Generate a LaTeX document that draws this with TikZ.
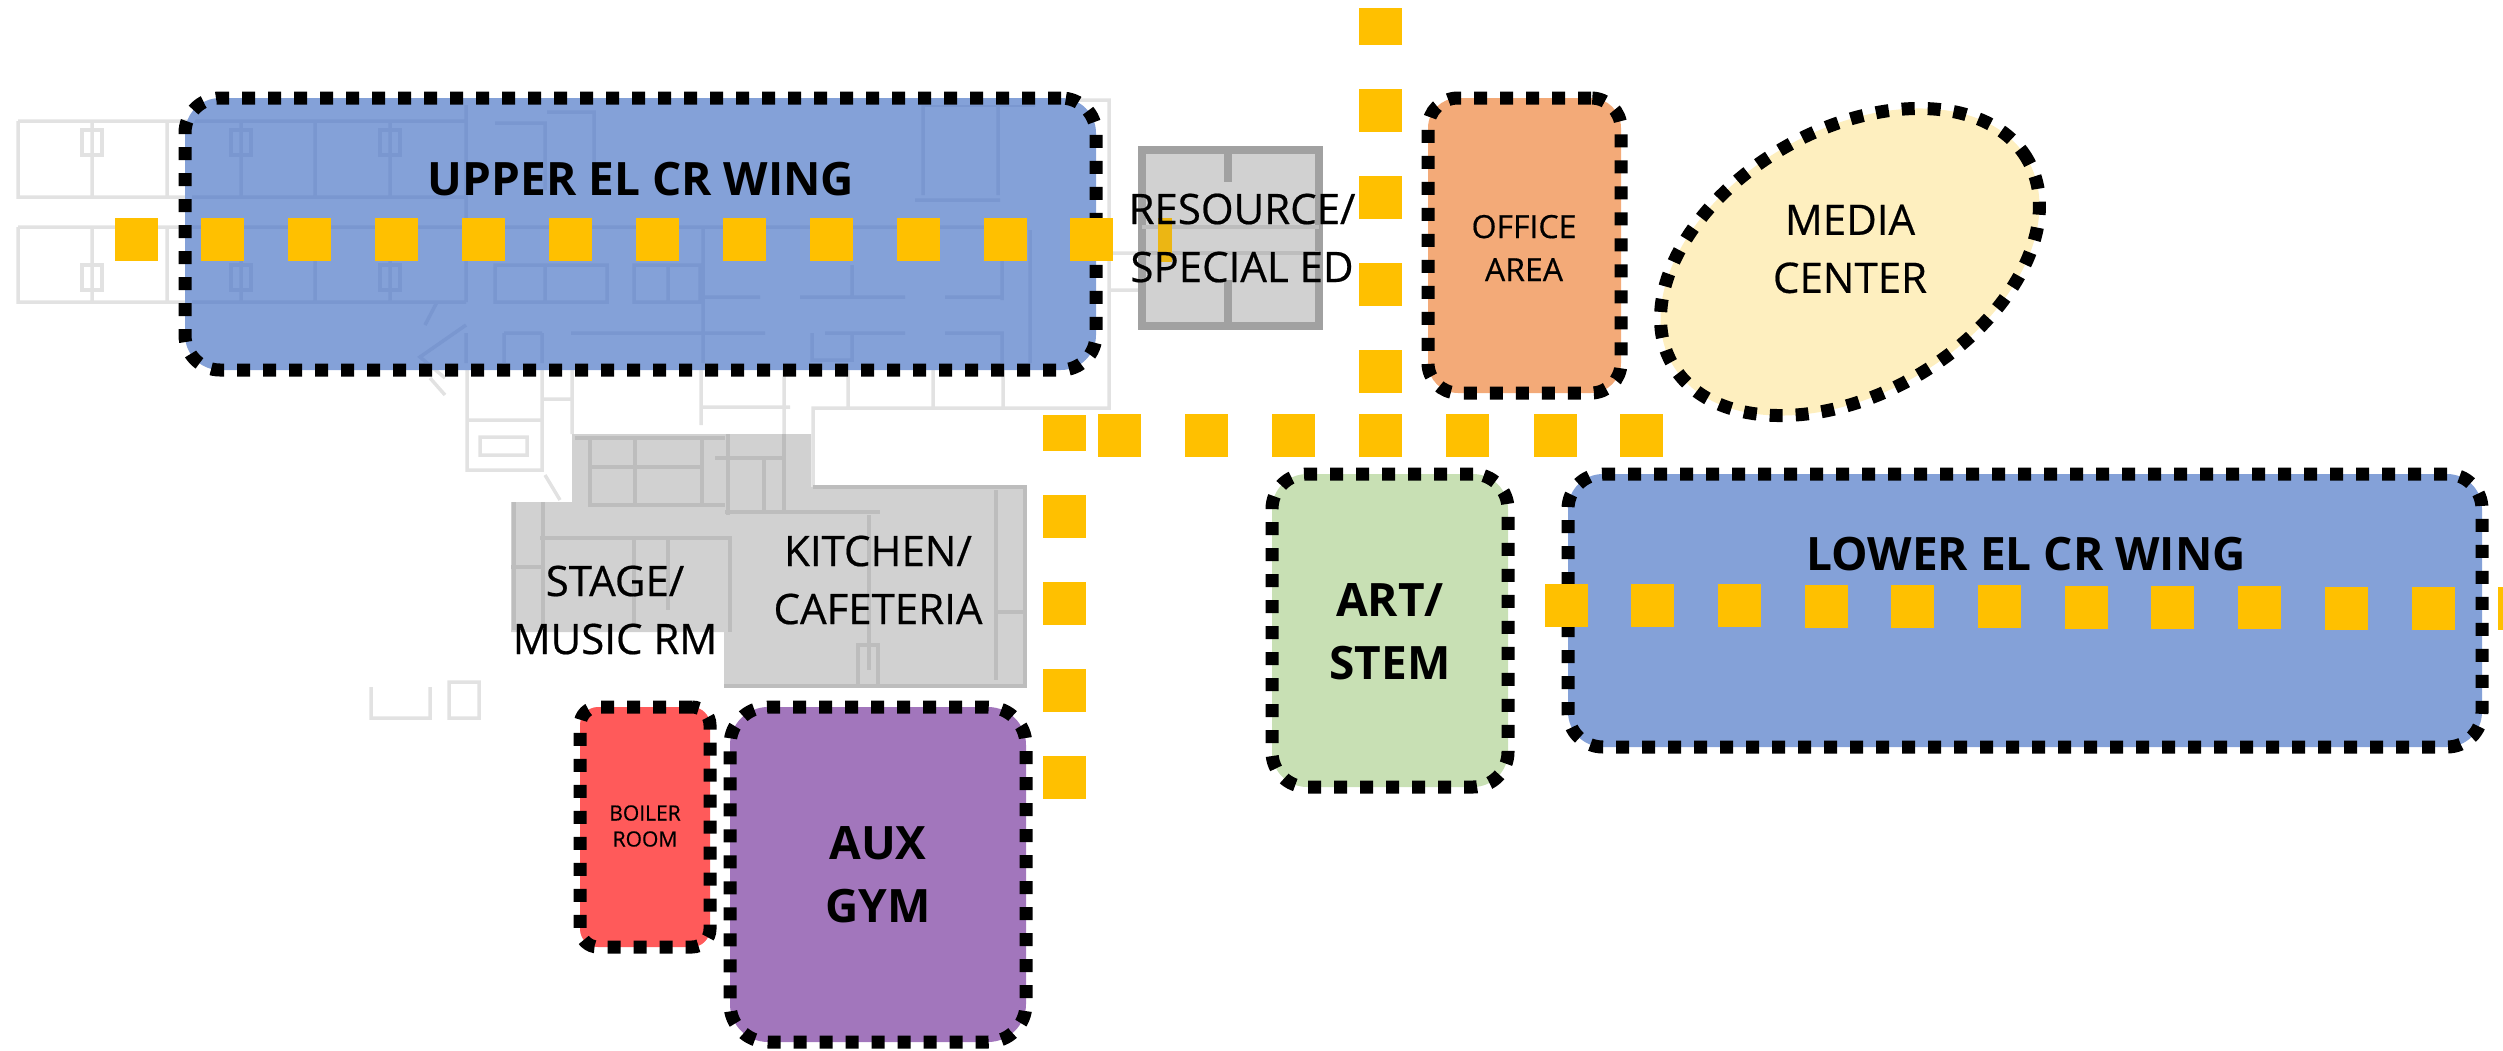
\documentclass[tikz,border=0pt]{standalone}
\usepackage{fontspec}
\setmainfont{Open Sans}
\newfontfamily\heavyfont[FakeBold=0.5]{Open Sans}
\usetikzlibrary{shapes.geometric}
\definecolor{wing}   {HTML}{84A1D8}
\definecolor{wingln} {HTML}{7A97D0}
\definecolor{office} {HTML}{F3AA78}
\definecolor{media}  {HTML}{FEEFBF}
\definecolor{art}    {HTML}{C8E0B4}
\definecolor{gym}    {HTML}{A276BC}
\definecolor{boiler} {HTML}{FF5A5A}
\definecolor{path}   {HTML}{FFC000}
\definecolor{plan}   {HTML}{D1D1D1}
\definecolor{planln} {HTML}{BDBDBD}
\definecolor{faint}  {HTML}{E2E2E2}
\tikzset{
  room/.style    = {draw=black, line width=13pt, dash pattern=on 13pt off 13pt,
                    rounded corners=35pt, inner sep=0pt},
  pathsq/.style  = {fill=path, inner sep=0pt, minimum size=43pt},
  lbl/.style     = {align=center, inner sep=0pt, font=\heavyfont\fontsize{42}{58}\selectfont},
  biglbl/.style  = {lbl, font=\bfseries\fontsize{46}{63}\selectfont},
  wall/.style    = {line width=3.5pt, draw=#1},
}
% walls of the upper wing
\newcommand{\upperplan}{
  (18,121) -- (466,121) (18,121) -- (18,197) -- (466,197)
  (18,227) -- (18,302) -- (466,302) (18,227) -- (1000,227)
  (92,121) -- (92,197) (92,227) -- (92,302)
  (167,121) -- (167,197) (167,227) -- (167,302)
  (241,121) -- (241,197) (241,227) -- (241,302)
  (315,121) -- (315,197) (315,227) -- (315,302)
  (390,121) -- (390,197) (390,227) -- (390,302)
  (466,105) -- (466,302) (495,123) -- (545,123) -- (545,190)
  (547,112) -- (594,112) -- (594,180)
  (495,265) -- (607,265) -- (607,302) -- (495,302) -- cycle (545,265) -- (545,302)
  (634,265) -- (700,265) -- (700,302) -- (634,302) -- cycle (668,265) -- (668,302)
  (703,227) -- (703,370) (700,297) -- (760,297) (800,297) -- (905,297) (945,297) -- (1002,297)
  (852,265) -- (852,297) (1002,235) -- (1002,300) (1030,230) -- (1030,365)
  (923,105) -- (923,195) (923,105) -- (1035,105) (915,200) -- (1000,200) (998,105) -- (998,195)
  (466,333) -- (466,370) (504,333) -- (504,370) (542,333) -- (542,370) (504,333) -- (542,333)
  (571,333) -- (765,333) (825,333) -- (905,333) (945,333) -- (1002,333) -- (1002,370)
  (812,333) -- (812,360) -- (852,360) -- (852,333)
  (466,325) -- (420,357) -- (445,378) (437,302) -- (425,325)
}
\begin{document}
\begin{tikzpicture}[x=1pt, y=-1pt]
  \useasboundingbox (0,0) rectangle (2503,1050);

  % faded plan, outside the gray rooms
  \draw[wall=faint] \upperplan;
  \foreach \x in {92,241,390}
    \foreach \y in {130,265}
      \draw[wall=faint] (\x-10,\y) rectangle (\x+10,\y+25);
  \draw[wall=faint] (1060,100) -- (1109,100) -- (1109,408) -- (813,408) -- (813,487)
    (848,370) -- (848,408) (933,370) -- (933,408) (1003,370) -- (1003,408)
    (467,370) -- (467,470) -- (542,470) -- (542,370) (467,420) -- (542,420)
    (480,437) rectangle (527,455) (572,370) -- (572,434) (542,399) -- (572,399)
    (701,370) -- (701,425) (701,407) -- (790,407) (784,370) -- (784,434)
    (430,378) -- (445,395) (545,475) -- (560,500)
    (371,687) -- (371,718) -- (430,718) -- (430,687) (449,682) rectangle (479,718)
    (1109,253) -- (1138,253) (1109,290) -- (1138,290);

  % gray rooms
  \fill[plan] (572,434) -- (811,434) -- (811,487) -- (1025,487) -- (1025,686) -- (724,686)
    -- (724,632) -- (511,632) -- (511,502) -- (572,502) -- cycle;
  \draw[wall=planln] (575,438) -- (725,438) (590,438) -- (590,505) -- (725,505)
    (590,467) -- (702,467) (635,438) -- (635,505) (702,438) -- (702,505)
    (728,434) -- (728,515) (715,458) -- (785,458) (764,458) -- (764,513) (784,434) -- (784,513)
    (725,512) -- (880,512) (813,487) -- (1025,487) -- (1025,686) -- (724,686)
    (540,538) -- (730,538) -- (730,632) (543,502) -- (543,630) (634,538) -- (634,625)
    (668,538) -- (668,610) (511,567) -- (543,567) (514,502) -- (514,630)
    (996,490) -- (996,680) (996,612) -- (1025,612) (869,515) -- (869,670)
    (858,645) rectangle (878,686);
  \fill[plan] (1138,146) rectangle (1323,330);
  \draw[planln!85!black, line width=8pt] (1142,150) rectangle (1319,326)
    (1228,150) -- (1228,182) (1228,280) -- (1228,326);
  \draw[wall=planln] (1142,227) -- (1319,227) (1142,253) -- (1319,253);
  \fill[path!85!gray] (1158,218) rectangle (1172,262);

  % rooms
  \node[room, fill=wing, minimum width=911pt, minimum height=272pt] (upperwing) at (640.5,234) {};
  \begin{scope}
    \clip[rounded corners=28pt] (192,105) rectangle (1089,363);
    \draw[wall=wingln] \upperplan;
    \foreach \x in {241,390}
      \foreach \y in {130,265}
        \draw[wall=wingln] (\x-10,\y) rectangle (\x+10,\y+25);
  \end{scope}
  \node[room, fill=wing, minimum width=914pt, minimum height=273pt] (lowerwing) at (2025,610.5) {};
  \node[room, fill=art, minimum width=236pt, minimum height=313pt] (artstem) at (1390,630.5) {};
  \node[room, fill=office, rounded corners=30pt, minimum width=193pt, minimum height=295pt] (officearea) at (1524.5,245.5) {};
  \node[room, fill=boiler, rounded corners=18pt, minimum width=130pt, minimum height=240pt] (boilerroom) at (645,827) {};
  \node[room, fill=gym, rounded corners=38pt, minimum width=296pt, minimum height=335pt] (auxgym) at (878,874.5) {};
  \node[room, fill=media, ellipse, rotate=30, minimum width=410pt, minimum height=264pt] (mediacenter) at (1850,262) {};

  % path squares
  \foreach \x in {0,...,11}
    \node[pathsq] (ua\x) at (136+86.9*\x,239.5) {};
  \foreach \x in {0,...,11}
    \node[pathsq] (lo\x) at (1566+86.7*\x,605+0.36*\x) {};
  \foreach \x in {1119,1206,1293,1380,1467,1555,1641}
    \node[pathsq] (ha\x) at (\x,435.5) {};
  \foreach \y in {110,197,284,371}
    \node[pathsq] (ve\y) at (1380,\y) {};
  \foreach \y in {516,603,690,777}
    \node[pathsq] (vw\y) at (1064,\y) {};
  \node[pathsq, minimum height=37pt] (vetop) at (1380,26.5) {};
  \node[pathsq, minimum height=36pt] (vwtop) at (1064,433) {};

  % labels
  \node[biglbl] (upperlbl) at (641,179) {UPPER EL CR WING};
  \node[biglbl] (lowerlbl) at (2026,554) {LOWER EL CR WING};
  \node[biglbl] (artlbl)   at (1390,632) {ART/\\STEM};
  \node[biglbl] (auxlbl)   at (878,875) {AUX\\GYM};
  \node[lbl] (reslbl)   at (1242,238) {RESOURCE/\\SPECIAL ED};
  \node[lbl] (medialbl) at (1850,249) {MEDIA\\CENTER};
  \node[lbl] (kitlbl)   at (878,580) {KITCHEN/\\CAFETERIA};
  \node[lbl] (stagelbl) at (615,610) {STAGE/\\MUSIC RM};
  \node[lbl, font=\heavyfont\fontsize{32}{43}\selectfont] (officelbl) at (1524,248) {OFFICE\\AREA};
  \node[lbl, font=\heavyfont\fontsize{21}{26}\selectfont] (boilerlbl) at (645,826) {BOILER\\ROOM};
\end{tikzpicture}
\end{document}
